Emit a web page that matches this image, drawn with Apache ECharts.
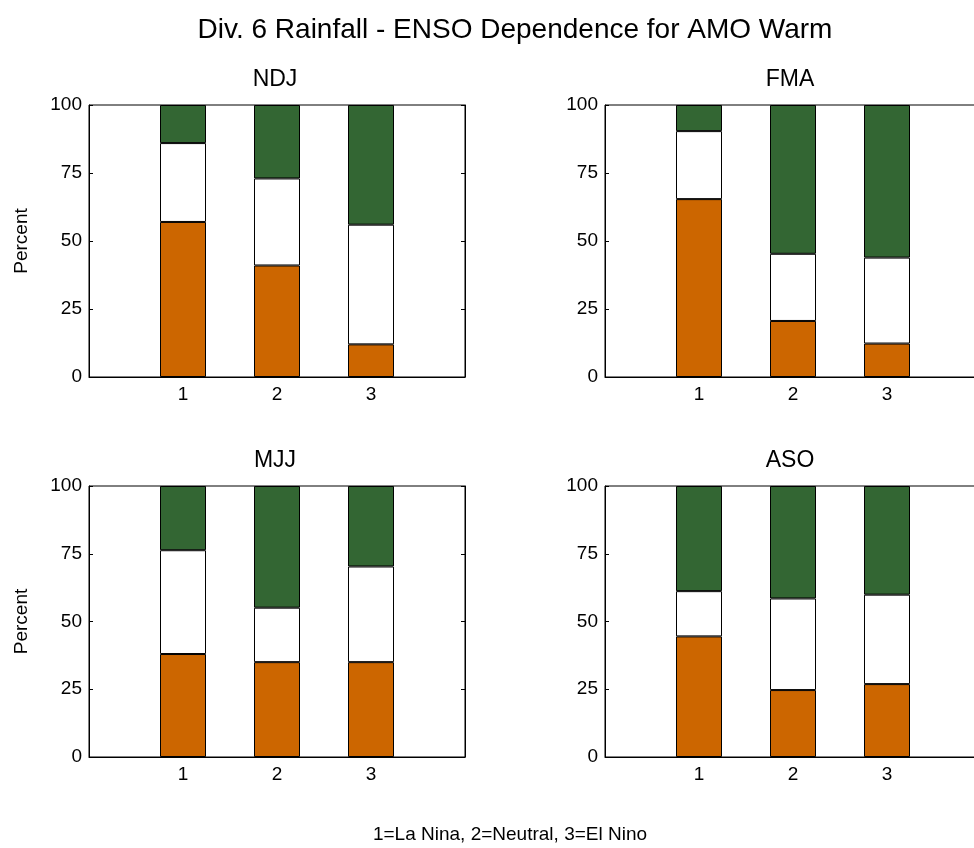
<!DOCTYPE html>
<html>
<head>
<meta charset="utf-8">
<script src="https://cdn.jsdelivr.net/npm/echarts@6/dist/echarts.min.js"></script>
<style>
html,body{margin:0;padding:0;background:#fff;overflow:hidden;}
#chart{width:990px;height:848px;}
</style>
</head>
<body>
<div id="chart"></div>
<script>
// Data (percent)
var categories = ['1', '2', '3'];
var seasons = ['NDJ', 'FMA', 'MJJ', 'ASO'];
// bottom (orange) segment
var belowNDJ = [57, 41, 12];
var belowFMA = [65.4, 20.6, 12.3];
var belowMJJ = [38, 35, 35];
var belowASO = [44.5, 24.7, 26.9];
// middle (white) segment
var normalNDJ = [29, 32, 44];
var normalFMA = [25, 24.7, 31.6];
var normalMJJ = [38.3, 20.1, 35.3];
var normalASO = [16.7, 33.8, 33];
// top (green) segment
var aboveNDJ = [14, 27, 44];
var aboveFMA = [9.6, 54.7, 56.1];
var aboveMJJ = [23.7, 44.9, 29.7];
var aboveASO = [38.8, 41.5, 40.1];
var yTicks = [0, 25, 50, 75, 100];

var below = [belowNDJ, belowFMA, belowMJJ, belowASO];
var normal = [normalNDJ, normalFMA, normalMJJ, normalASO];
var above = [aboveNDJ, aboveFMA, aboveMJJ, aboveASO];

// axis runs from 0 to 4, with the three categories at 1, 2, 3
var axisCats = [''].concat(categories).concat(['']);
function pad(vals) { return ['-'].concat(vals).concat(['-']); }

var FONT = 'Liberation Sans';
var grids = [
  {left: 89, width: 376, top: 105, height: 272, cx: 275},
  {left: 605, width: 376, top: 105, height: 272, cx: 790},
  {left: 89, width: 376, top: 486, height: 271, cx: 275},
  {left: 605, width: 376, top: 486, height: 271, cx: 790}
];

var option = {
  animation: false,
  backgroundColor: '#fff',
  textStyle: {fontFamily: FONT},
  title: [
    {text: 'Div. 6 Rainfall - ENSO Dependence for AMO Warm', left: 510, top: 11, textAlign: 'center',
     textStyle: {fontFamily: FONT, fontSize: 28, fontWeight: 'normal', color: '#000'}},
    {text: '1=La Nina, 2=Neutral, 3=El Nino', left: 505, top: 820, textAlign: 'center',
     textStyle: {fontFamily: FONT, fontSize: 19, fontWeight: 'normal', color: '#000'}}
  ],
  grid: [],
  xAxis: [],
  yAxis: [],
  series: []
};

grids.forEach(function (g, i) {
  option.grid.push({left: g.left, width: g.width, top: g.top, height: g.height,
    show: true, borderColor: '#000', borderWidth: 1, backgroundColor: '#fff'});
  option.title.push({text: seasons[i], left: g.cx - 5, top: g.top - 42, textAlign: 'center',
    textStyle: {fontFamily: FONT, fontSize: 23, fontWeight: 'normal', color: '#000'}});
  option.xAxis.push({type: 'category', gridIndex: i, data: axisCats, boundaryGap: false,
    axisLine: {show: true, onZero: false, lineStyle: {color: '#000', width: 1}},
    axisTick: {show: true, inside: true, length: 4, lineStyle: {color: '#000'}},
    splitLine: {show: false},
    axisLabel: {color: '#000', fontSize: 19, fontFamily: FONT, margin: 8}
  });
  option.yAxis.push({type: 'value', gridIndex: i, min: yTicks[0], max: yTicks[yTicks.length - 1], interval: 25,
    name: (i % 2 === 0) ? 'Percent' : '', nameLocation: 'middle', nameGap: 58, nameRotate: 90,
    nameTextStyle: {fontFamily: FONT, fontSize: 19, color: '#000'},
    axisLine: {show: true, lineStyle: {color: '#000', width: 1}},
    axisTick: {show: true, inside: true, length: 4, lineStyle: {color: '#000'}},
    splitLine: {show: false},
    axisLabel: {color: '#000', fontSize: 19, fontFamily: FONT, margin: 7}
  });
  option.yAxis.push({type: 'value', gridIndex: i, position: 'right', min: 0, max: 100, interval: 25,
    axisLine: {show: true, lineStyle: {color: '#000', width: 1}},
    axisTick: {show: true, inside: true, length: 4, lineStyle: {color: '#000'}},
    splitLine: {show: false},
    axisLabel: {show: false}
  });
  var segs = [
    {name: 'Below', vals: below[i], color: '#cc6600'},
    {name: 'Normal', vals: normal[i], color: '#ffffff'},
    {name: 'Above', vals: above[i], color: '#336633'}
  ];
  segs.forEach(function (s) {
    option.series.push({
      type: 'bar', name: s.name, xAxisIndex: i, yAxisIndex: i * 2, stack: 'st' + i,
      barWidth: 46,
      itemStyle: {color: s.color, borderColor: '#000', borderWidth: 1},
      data: pad(s.vals)
    });
  });
});

var chart = echarts.init(document.getElementById('chart'), null, {renderer: 'canvas'});
chart.setOption(option);
</script>
</body>
</html>
